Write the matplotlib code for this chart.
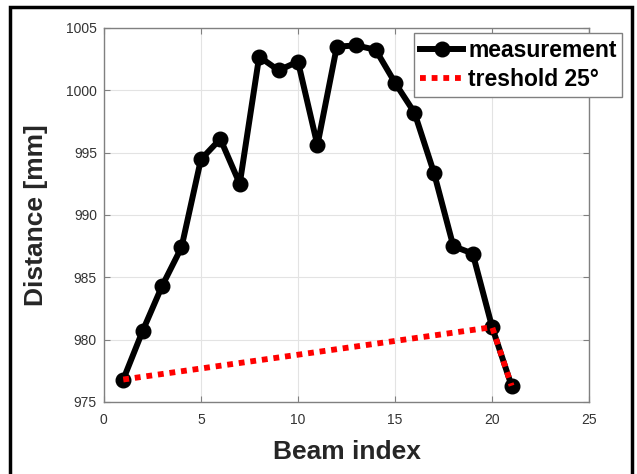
import matplotlib.pyplot as plt
from matplotlib.patches import Rectangle

plt.rcParams['font.family'] = ['Liberation Sans', 'DejaVu Sans']

# Measured distance for each beam
beam = [1, 2, 3, 4, 5, 6, 7, 8, 9, 10, 11, 12, 13, 14, 15, 16, 17, 18, 19, 20, 21]
distance = [976.8, 980.7, 984.3, 987.4, 994.45, 996.1, 992.5, 1002.7, 1001.6, 1002.3,
            995.6, 1003.5, 1003.6, 1003.25, 1000.6, 998.2, 993.4, 987.5, 986.9, 981.0, 976.3]

# Threshold polyline
thr_x = [1, 20, 21]
thr_y = [976.8, 981.0, 976.3]

x_ticks = [0, 5, 10, 15, 20, 25]
y_ticks = [975, 980, 985, 990, 995, 1000, 1005]

fig = plt.figure(figsize=(6.37, 4.74), dpi=100)
ax = fig.add_axes([0.163, 0.152, 0.762, 0.789])

ax.plot(beam, distance, color='black', linewidth=4.3, marker='o', markersize=10.5,
        label='measurement')
ax.plot(thr_x, thr_y, color='#ff0000', linewidth=4.2, linestyle=(0, (1, 1)),
        label='treshold 25°')

ax.set_xlim(0, 25)
ax.set_ylim(975, 1005)
ax.set_xticks(x_ticks)
ax.set_yticks(y_ticks)
ax.grid(True, color='#e3e3e3', linewidth=0.8)
ax.set_axisbelow(True)

for s in ax.spines.values():
    s.set_color('#808080')
    s.set_linewidth(1)
ax.tick_params(direction='in', top=True, right=True, length=4, color='#808080',
               labelcolor='#333333', labelsize=10)
ax.tick_params(axis='x', pad=8)
ax.tick_params(axis='y', pad=5)

ax.set_xlabel('Beam index', fontsize=19, fontweight='bold', color='#262626', labelpad=9)
ax.set_ylabel('Distance [mm]', fontsize=19, fontweight='bold', color='#262626', labelpad=13)

leg = ax.legend(loc='upper right', bbox_to_anchor=(1.068, 0.987),
                prop={'weight': 'bold', 'size': 16.5}, fancybox=False,
                framealpha=1, edgecolor='#808080', handlelength=1.9,
                handletextpad=0.2, borderpad=0.25, labelspacing=0.3,
                borderaxespad=0)
leg.get_frame().set_linewidth(1)

# frame around the whole figure
fig.patches.append(Rectangle((0.016, -0.05), 0.976, 1.036, transform=fig.transFigure,
                             fill=False, edgecolor='black', linewidth=2.5))

fig.savefig('out.png', dpi=100)
